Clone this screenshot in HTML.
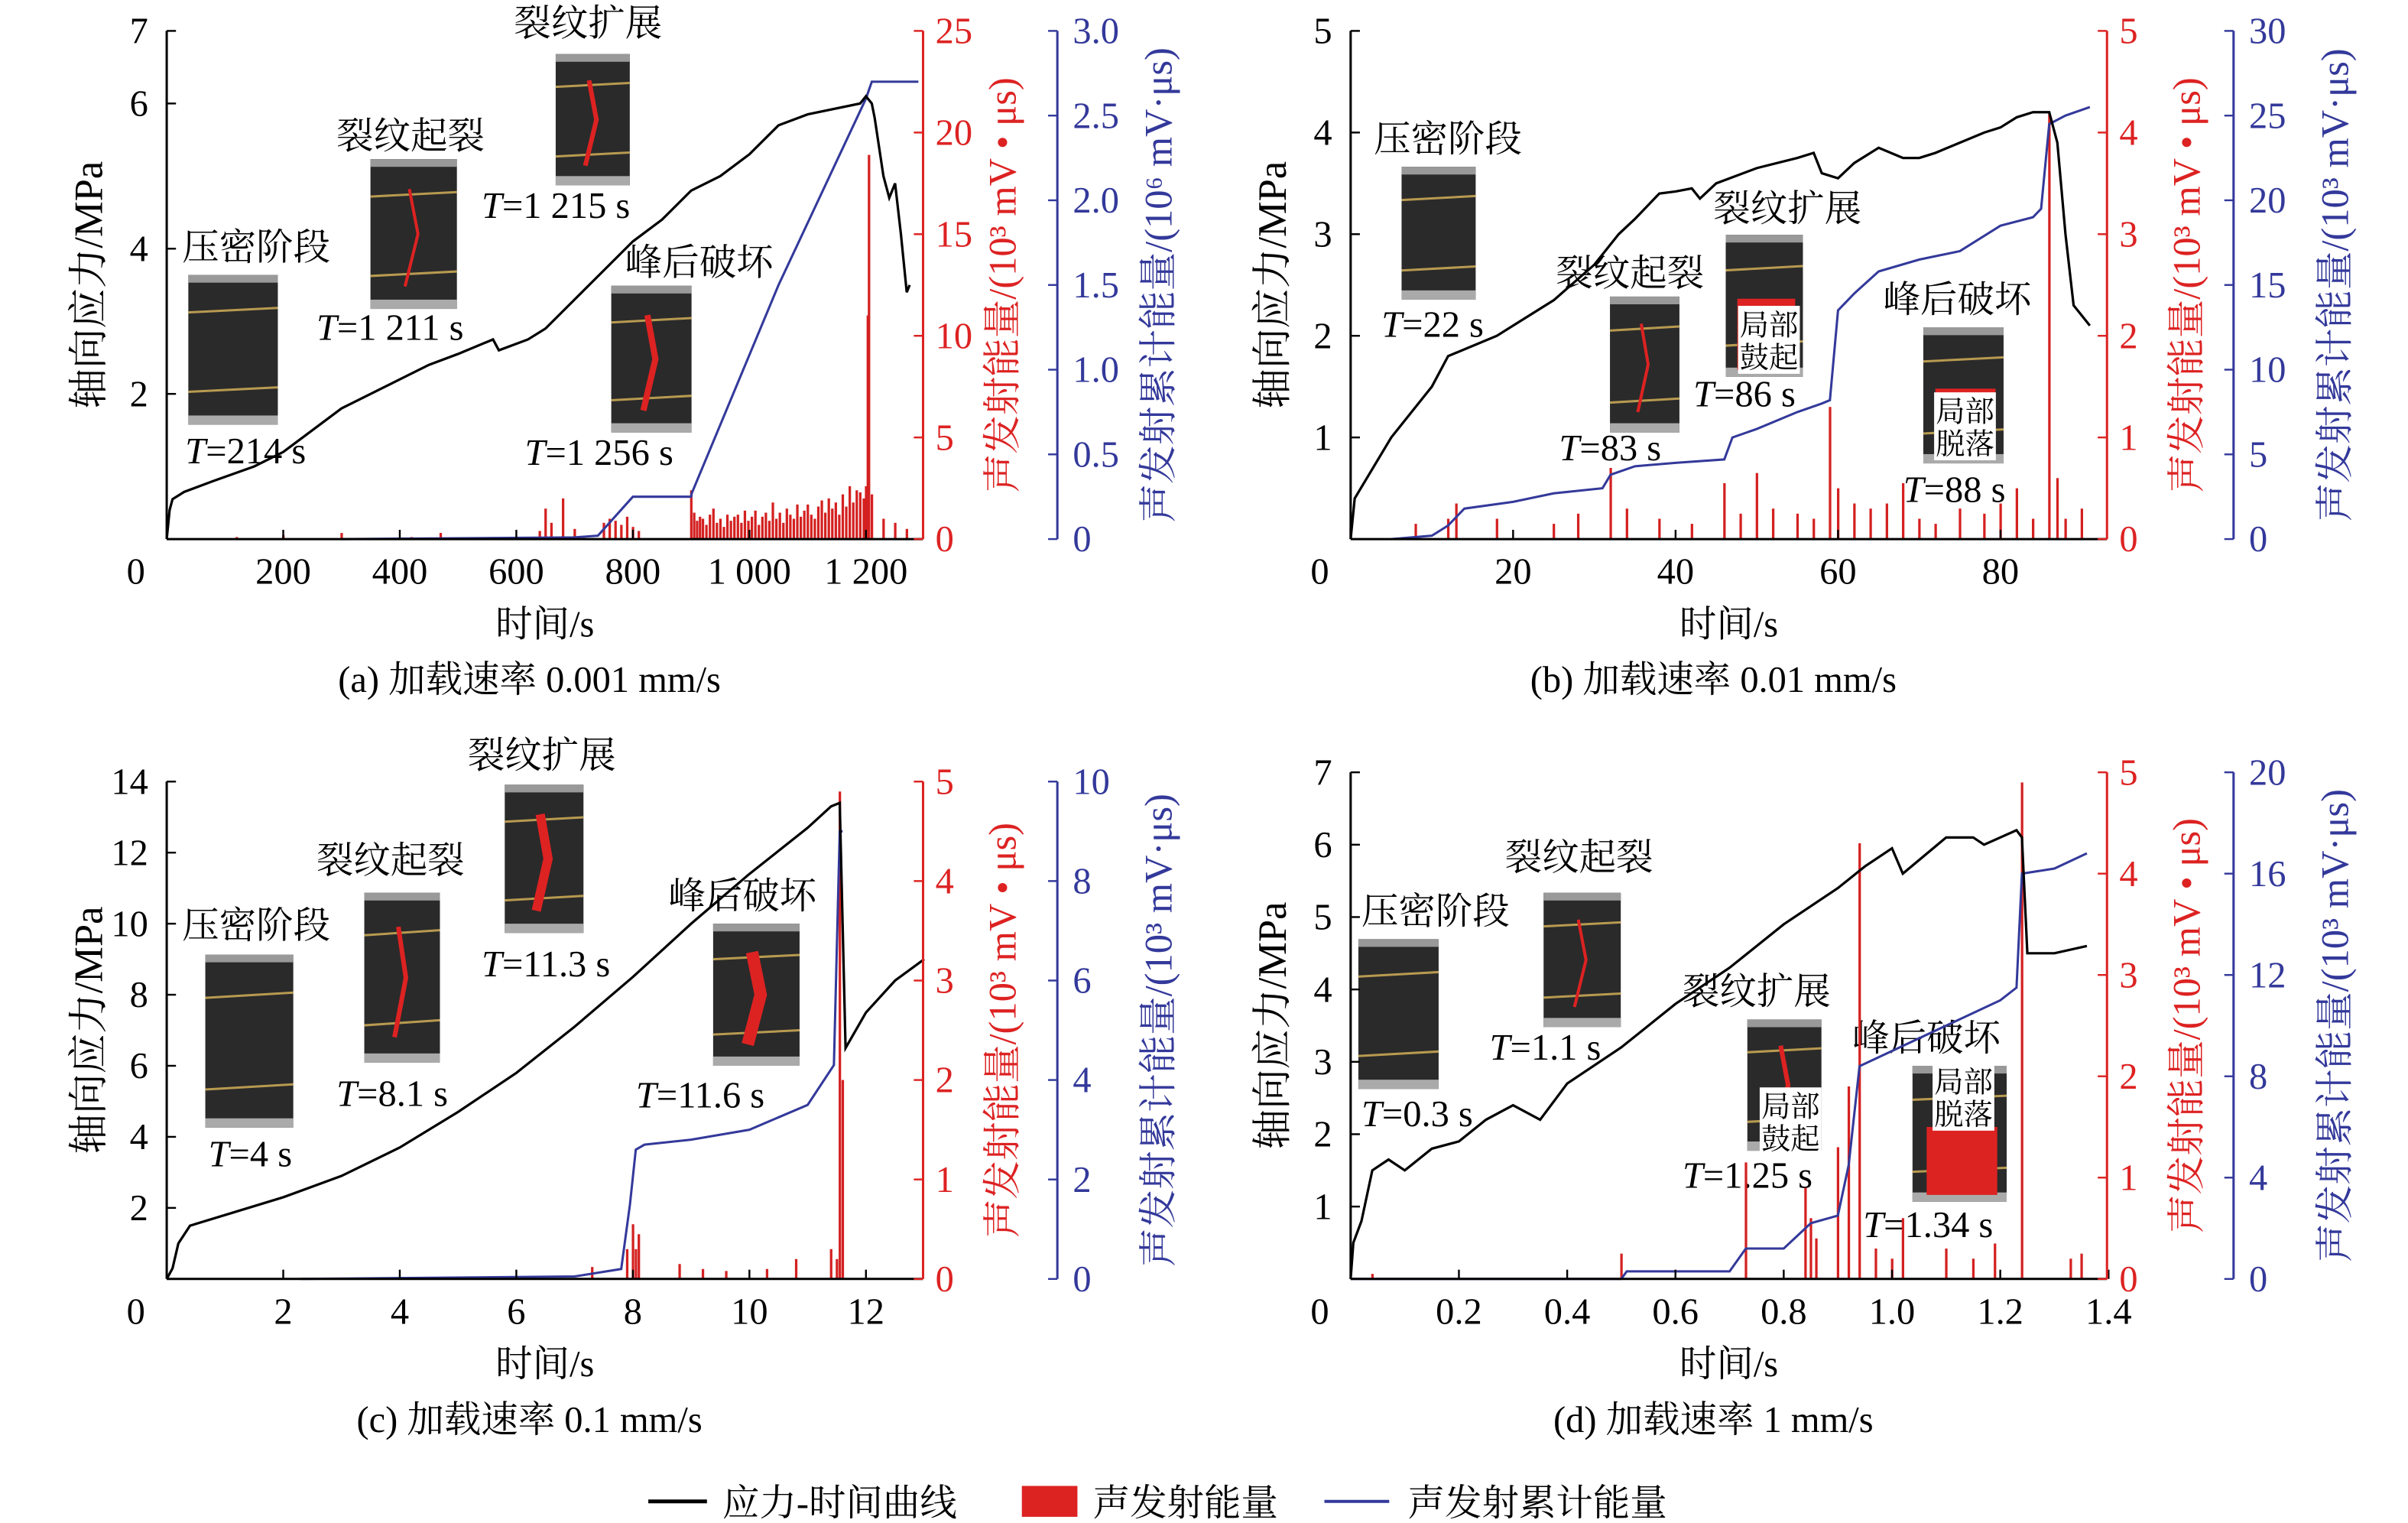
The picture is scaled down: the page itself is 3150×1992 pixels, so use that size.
<!DOCTYPE html>
<html><head><meta charset="utf-8"><style>
html,body{margin:0;padding:0;background:#fff;}
svg{display:block;font-family:"Liberation Serif","Noto Serif CJK SC","Noto Sans CJK SC",serif;}
</style></head><body>
<svg id="chart" width="3150" height="1992" viewBox="0 0 1560 986" preserveAspectRatio="none" xmlns="http://www.w3.org/2000/svg">
<rect width="1560" height="986" fill="#fff"/>
<g>
<line x1="420" y1="972" x2="458" y2="972" stroke="#000" stroke-width="2.5"/>
<text x="468" y="981" font-size="24">应力-时间曲线</text>
<rect x="662" y="962" width="36" height="20" fill="#d22"/>
<text x="708" y="981" font-size="24">声发射能量</text>
<line x1="858" y1="972" x2="900" y2="972" stroke="#33399a" stroke-width="2"/>
<text x="912" y="981" font-size="24">声发射累计能量</text>
</g>
</svg>
<script>
// ---- Panel (a) data ----
const aStressT=[0,5,10,30,80,150,200,250,300,350,400,450,500,560,570,620,650,700,750,800,850,900,950,1000,1050,1100,1190,1200,1210,1215,1230,1240,1250,1260,1270,1275];
const aStressV=[0,0.4,0.55,0.65,0.8,1.0,1.2,1.5,1.8,2.0,2.2,2.4,2.55,2.75,2.6,2.75,2.9,3.3,3.7,4.1,4.4,4.8,5.0,5.3,5.7,5.85,6.0,6.1,6.0,5.8,5.0,4.7,4.9,4.2,3.4,3.5];
const aCumT=[300,700,740,800,900,901,1050,1200,1210,1290];
const aCumV=[0.0,0.01,0.02,0.25,0.25,0.27,1.5,2.6,2.7,2.7];
const aAeT=[120,200,300,420,470,640,650,660,680,700,750,760,770,780,790,800,810,900,905,910,915,920,926,932,938,944,950,956,962,968,974,980,986,992,998,1004,1010,1016,1022,1028,1034,1040,1046,1052,1058,1064,1070,1076,1082,1088,1094,1100,1106,1112,1118,1124,1130,1136,1142,1148,1154,1160,1166,1172,1178,1184,1190,1196,1200,1203,1205,1210,1230,1250,1270];
const aAeV=[0.1,0.2,0.3,0.1,0.3,0.4,1.5,0.8,2.0,0.5,0.8,1.0,0.9,0.7,1.1,0.6,0.4,2.4,1.3,0.9,1.1,1.0,0.7,1.2,1.5,0.8,1.0,0.6,1.2,0.9,1.1,1.2,0.8,1.4,0.9,1.1,1.4,0.7,1.1,1.3,0.9,1.8,1.0,1.3,0.8,1.5,1.2,1.0,1.7,1.1,1.4,1.7,1.2,1.0,1.6,1.9,1.3,2.0,1.5,1.8,1.2,2.2,1.6,2.6,1.8,2.4,2.3,2.0,2.6,11.0,18.9,2.2,1.0,0.8,0.5];
// ---- Panel (b) data ----
const bStressT=[0,0.5,2,5,8,10,12,15,18,20,25,30,33,35,38,40,42,43,45,50,55,57,58,60,62,65,68,70,72,75,78,80,82,84,86,87,88,89,91];
const bStressV=[0,0.4,0.6,1.0,1.3,1.5,1.8,1.9,2.0,2.1,2.35,2.7,3.0,3.15,3.4,3.42,3.45,3.35,3.5,3.65,3.75,3.8,3.6,3.55,3.7,3.85,3.75,3.75,3.8,3.9,4.0,4.05,4.15,4.2,4.2,3.9,3.0,2.3,2.1];
const bCumT=[5,10,12,14,20,25,31,32,35,40,46,47,50,55,58,59,60,62,65,70,75,80,84,85,86,88,91];
const bCumV=[0,0.2,0.8,1.8,2.2,2.7,3.0,3.8,4.3,4.5,4.7,6.0,6.5,7.5,8.0,8.2,13.5,14.5,15.8,16.5,17.0,18.5,19.0,19.5,24.5,25.0,25.5];
const bAeT=[0,8,12,13,18,25,28,32,34,38,42,46,48,50,52,55,57,59,60,62,64,66,68,70,72,75,78,80,82,84,86,87,88,90];
const bAeV=[0.1,0.15,0.2,0.35,0.2,0.15,0.25,0.7,0.3,0.2,0.15,0.55,0.25,0.65,0.3,0.25,0.2,1.3,0.5,0.35,0.3,0.35,0.55,0.2,0.15,0.3,0.25,0.35,0.5,0.2,4.2,0.6,0.2,0.3];
// ---- Panel (c) data ----
const cStressT=[0,0.1,0.2,0.4,1,2,3,4,5,6,7,8,9,10,11,11.4,11.55,11.65,12,12.5,13];
const cStressV=[0,0.3,1.0,1.5,1.8,2.3,2.9,3.7,4.7,5.8,7.1,8.5,10.0,11.4,12.7,13.3,13.4,6.5,7.5,8.4,9.0];
const cCumT=[2.3,7,7.8,7.95,8.05,8.2,9,10,11,11.45,11.55,11.6];
const cCumV=[0,0.05,0.2,1.5,2.6,2.7,2.8,3.0,3.5,4.3,9.0,9.0];
const cAeT=[7.3,7.9,8.0,8.05,8.1,8.8,9.2,9.6,10.3,10.8,11.4,11.5,11.55,11.6];
const cAeV=[0.12,0.3,0.55,0.3,0.45,0.15,0.1,0.08,0.1,0.2,0.3,0.2,4.9,2.0];
// ---- Panel (d) data ----
const dStressT=[0,0.005,0.02,0.04,0.07,0.1,0.15,0.2,0.25,0.3,0.35,0.4,0.5,0.6,0.7,0.8,0.9,0.95,1.0,1.02,1.1,1.15,1.17,1.23,1.24,1.25,1.3,1.36];
const dStressV=[0,0.5,0.8,1.5,1.65,1.5,1.8,1.9,2.2,2.4,2.2,2.7,3.2,3.8,4.3,4.9,5.4,5.7,5.95,5.6,6.1,6.1,6.0,6.2,6.1,4.5,4.5,4.6];
const dCumT=[0,0.5,0.51,0.7,0.73,0.8,0.85,0.9,0.92,0.94,1.0,1.1,1.2,1.23,1.24,1.3,1.36];
const dCumV=[0,0,0.3,0.3,1.2,1.2,2.2,2.5,4.5,8.4,9,10,11,11.5,16,16.2,16.8];
const dAeT=[0.04,0.5,0.73,0.84,0.85,0.86,0.9,0.92,0.94,0.97,1.0,1.02,1.1,1.15,1.19,1.24,1.33,1.35];
const dAeV=[0.05,0.25,1.15,0.9,0.6,0.4,1.3,1.9,4.3,0.3,0.2,0.6,0.3,0.2,0.35,4.9,0.2,0.25];

const svg=document.getElementById('chart');
const NS='http://www.w3.org/2000/svg';
function mk(tag,attrs,parent,txt){const e=document.createElementNS(NS,tag);for(const k in attrs)e.setAttribute(k,attrs[k]);if(txt!==undefined)e.textContent=txt;(parent||svg).appendChild(e);return e;}

function panel(cfg){
  const g=mk('g',{});
  
  
  const L=cfg.left,R=cfg.red,B=cfg.blue,bot=cfg.bottom,top=cfg.top;
  const xs=t=>L+(t-0)/(cfg.xmax)*(cfg.xEnd-L);
  const ys=v=>bot-v/cfg.smax*(bot-top);
  const yr=v=>bot-v/cfg.rmax*(bot-top);
  const yb=v=>bot-v/cfg.bmax*(bot-top);
  cfg.photos.forEach(p=>{
    const pg=mk('g',{},g);
    
    
    mk('rect',{x:p[0],y:p[1],width:p[2],height:p[3],fill:'#2a2a2a'},pg);
    mk('rect',{x:p[0],y:p[1],width:p[2],height:5,fill:'#999'},pg);
    mk('rect',{x:p[0],y:p[1]+p[3]-6,width:p[2],height:6,fill:'#aaa'},pg);
    mk('line',{x1:p[0],y1:p[1]+p[3]*0.25,x2:p[0]+p[2],y2:p[1]+p[3]*0.22,stroke:'#b89a50','stroke-width':1.5},pg);
    mk('line',{x1:p[0],y1:p[1]+p[3]*0.78,x2:p[0]+p[2],y2:p[1]+p[3]*0.75,stroke:'#b89a50','stroke-width':1.5},pg);
    if(p[4]>0) mk('path',{d:`M${p[0]+p[2]*0.45} ${p[1]+p[3]*0.2} L${p[0]+p[2]*0.55} ${p[1]+p[3]*0.5} L${p[0]+p[2]*0.4} ${p[1]+p[3]*0.85}`,stroke:'#d22','stroke-width':p[4],fill:'none'},pg);
    if(p[5]) {mk('rect',{x:p[0]+p[2]*0.15,y:p[1]+p[3]*0.45,width:p[2]*0.75,height:p[3]*0.5,fill:'#d22'},pg);}
  });
  cfg.boxes.forEach(b=>{
    const bx=mk('g',{},g);
    
    
    mk('rect',{x:b[0],y:b[1],width:40,height:44,fill:'#fff'},bx);
    mk('text',{x:b[0]+20,y:b[1]+19,'font-size':19,'text-anchor':'middle'},bx,b[2]);
    mk('text',{x:b[0]+20,y:b[1]+40,'font-size':19,'text-anchor':'middle'},bx,b[3]);
  });
  cfg.labels.forEach(l=>{
    const t=mk('text',{x:l[0],y:l[1],'font-size':24},g);
    
    
    if(l[2].startsWith('T=')){mk('tspan',{'font-style':'italic'},t,'T');mk('tspan',{},t,l[2].slice(1));}
    else t.textContent=l[2];
  });
  cfg.aeT.forEach((t,i)=>{
    const r=mk('rect',{x:xs(t)-0.7,y:yr(cfg.aeV[i]),width:1.6,height:bot-yr(cfg.aeV[i]),fill:'#d42020'},g);
    
    
  });
  const cum=mk('polyline',{points:cfg.cumT.map((t,i)=>xs(t)+','+yb(cfg.cumV[i])).join(' '),fill:'none',stroke:'#33399a','stroke-width':1.5},g);
  
  
  const st=mk('polyline',{points:cfg.sT.map((t,i)=>xs(t)+','+ys(cfg.sV[i])).join(' '),fill:'none',stroke:'#000','stroke-width':1.6},g);
  
  
  const ax=mk('g',{},g);
  
  
  mk('line',{x1:L,y1:bot,x2:R,y2:bot,stroke:'#000','stroke-width':1.5},ax);
  mk('text',{x:L-20,y:bot+29,'font-size':24,'text-anchor':'middle'},ax,'0');
  cfg.xticks.forEach((v,i)=>{mk('line',{x1:xs(v),y1:bot,x2:xs(v),y2:bot-6,stroke:'#000','stroke-width':1.2},ax);
    mk('text',{x:xs(v),y:bot+29,'font-size':24,'text-anchor':'middle'},ax,cfg.xtickLabels[i]);});
  const xt=mk('text',{x:(L+R)/2,y:bot+63,'font-size':24,'text-anchor':'middle'},g,'时间/s');
  
  const cp=mk('text',{x:(L+R)/2-10,y:bot+99,'font-size':24,'text-anchor':'middle'},g,cfg.caption);
  
  const ay=mk('g',{},g);
  
  
  mk('line',{x1:L,y1:bot,x2:L,y2:top,stroke:'#000','stroke-width':1.5},ay);
  cfg.sticks.forEach(v=>{mk('line',{x1:L,y1:ys(v),x2:L+6,y2:ys(v),stroke:'#000','stroke-width':1.2},ay);
    mk('text',{x:L-12,y:ys(v)+8,'font-size':24,'text-anchor':'end'},ay,String(v));});
  mk('text',{transform:`translate(${L-42},${(top+bot)/2}) rotate(-90)`,'font-size':26,'text-anchor':'middle'},ay,'轴向应力/MPa');
  const ar=mk('g',{},g);
  
  
  mk('line',{x1:R,y1:bot,x2:R,y2:top,stroke:'#d22','stroke-width':1.5},ar);
  cfg.rticks.forEach(v=>{mk('line',{x1:R,y1:yr(v),x2:R-6,y2:yr(v),stroke:'#d22','stroke-width':1.2},ar);
    mk('text',{x:R+8,y:yr(v)+8,'font-size':24,fill:'#d22'},ar,String(v));});
  mk('text',{transform:`translate(${R+60},${(top+bot)/2}) rotate(-90)`,'font-size':25,'text-anchor':'middle',fill:'#d22'},ar,'声发射能量/(10³ mV • μs)');
  const ab=mk('g',{},g);
  
  
  mk('line',{x1:B,y1:bot,x2:B,y2:top,stroke:'#33399a','stroke-width':1.5},ab);
  cfg.bticks.forEach((v,i)=>{mk('line',{x1:B,y1:yb(v),x2:B-6,y2:yb(v),stroke:'#33399a','stroke-width':1.2},ab);
    mk('text',{x:B+10,y:yb(v)+8,'font-size':24,fill:'#33399a'},ab,cfg.btickLabels[i]);});
  mk('text',{transform:`translate(${B+74},${(top+bot)/2}) rotate(-90)`,'font-size':25,'text-anchor':'middle',fill:'#33399a'},ab,cfg.blabel);
}

panel({id:'a',left:108,red:598,blue:685,bottom:349,top:20,xmax:1200,xEnd:561,smax:7,rmax:25,bmax:3,
  xticks:[200,400,600,800,1000,1200],xtickLabels:['200','400','600','800','1 000','1 200'],
  sticks:[2,4,6,7],rticks:[0,5,10,15,20,25],bticks:[0,0.5,1,1.5,2,2.5,3],btickLabels:['0','0.5','1.0','1.5','2.0','2.5','3.0'],
  blabel:'声发射累计能量/(10⁶ mV·μs)',caption:'(a) 加载速率 0.001 mm/s',
  sT:aStressT,sV:aStressV,cumT:aCumT,cumV:aCumV,aeT:aAeT,aeV:aAeV,
  photos:[[122,178,58,97,0,0],[240,103,56,97,2,0],[360,35,48,85,3,0],[396,185,52,95,4,0]],boxes:[],
  labels:[[118,168,'压密阶段'],[120,300,'T=214 s'],[218,96,'裂纹起裂'],[205,220,'T=1 211 s'],[333,23,'裂纹扩展'],[312,141,'T=1 215 s'],[405,178,'峰后破坏'],[340,301,'T=1 256 s']]});
panel({id:'b',left:875,red:1365,blue:1447,bottom:349,top:20,xmax:80,xEnd:1296,smax:5,rmax:5,bmax:30,
  xticks:[20,40,60,80],xtickLabels:['20','40','60','80'],
  sticks:[1,2,3,4,5],rticks:[0,1,2,3,4,5],bticks:[0,5,10,15,20,25,30],btickLabels:['0','5','10','15','20','25','30'],
  blabel:'声发射累计能量/(10³ mV·μs)',caption:'(b) 加载速率 0.01 mm/s',
  sT:bStressT,sV:bStressV,cumT:bCumT,cumV:bCumV,aeT:bAeT,aeV:bAeV,
  photos:[[908,108,48,86,0,0],[1043,192,45,88,2,0],[1118,152,50,92,0,1],[1246,212,52,88,0,1]],
  boxes:[[1126,198,'局部','鼓起'],[1253,254,'局部','脱落']],
  labels:[[890,98,'压密阶段'],[895,218,'T=22 s'],[1008,185,'裂纹起裂'],[1010,298,'T=83 s'],[1110,143,'裂纹扩展'],[1097,263,'T=86 s'],[1220,202,'峰后破坏'],[1233,325,'T=88 s']]});
panel({id:'c',left:108,red:598,blue:685,bottom:828,top:506,xmax:12,xEnd:561,smax:14,rmax:5,bmax:10,
  xticks:[2,4,6,8,10,12],xtickLabels:['2','4','6','8','10','12'],
  sticks:[2,4,6,8,10,12,14],rticks:[0,1,2,3,4,5],bticks:[0,2,4,6,8,10],btickLabels:['0','2','4','6','8','10'],
  blabel:'声发射累计能量/(10³ mV·μs)',caption:'(c) 加载速率 0.1 mm/s',
  sT:cStressT,sV:cStressV,cumT:cCumT,cumV:cCumV,aeT:cAeT,aeV:cAeV,
  photos:[[133,618,57,112,0,0],[236,578,49,110,3,0],[327,508,51,96,6,0],[462,598,56,92,8,0]],boxes:[],
  labels:[[118,607,'压密阶段'],[135,755,'T=4 s'],[205,565,'裂纹起裂'],[218,716,'T=8.1 s'],[303,497,'裂纹扩展'],[312,632,'T=11.3 s'],[433,588,'峰后破坏'],[412,717,'T=11.6 s']]});
panel({id:'d',left:875,red:1365,blue:1447,bottom:828,top:500,xmax:1.4,xEnd:1366,smax:7,rmax:5,bmax:20,
  xticks:[0.2,0.4,0.6,0.8,1.0,1.2,1.4],xtickLabels:['0.2','0.4','0.6','0.8','1.0','1.2','1.4'],
  sticks:[1,2,3,4,5,6,7],rticks:[0,1,2,3,4,5],bticks:[0,4,8,12,16,20],btickLabels:['0','4','8','12','16','20'],
  blabel:'声发射累计能量/(10³ mV·μs)',caption:'(d) 加载速率 1 mm/s',
  sT:dStressT,sV:dStressV,cumT:dCumT,cumV:dCumV,aeT:dAeT,aeV:dAeV,
  photos:[[880,608,52,97,0,0],[1000,578,50,87,2,0],[1132,660,48,85,3,0],[1239,690,61,88,0,1]],
  boxes:[[1140,704,'局部','鼓起'],[1252,688,'局部','脱落']],
  labels:[[882,598,'压密阶段'],[882,729,'T=0.3 s'],[975,563,'裂纹起裂'],[965,686,'T=1.1 s'],[1090,650,'裂纹扩展'],[1090,769,'T=1.25 s'],[1200,680,'峰后破坏'],[1207,801,'T=1.34 s']]});
</script>
</body></html>
